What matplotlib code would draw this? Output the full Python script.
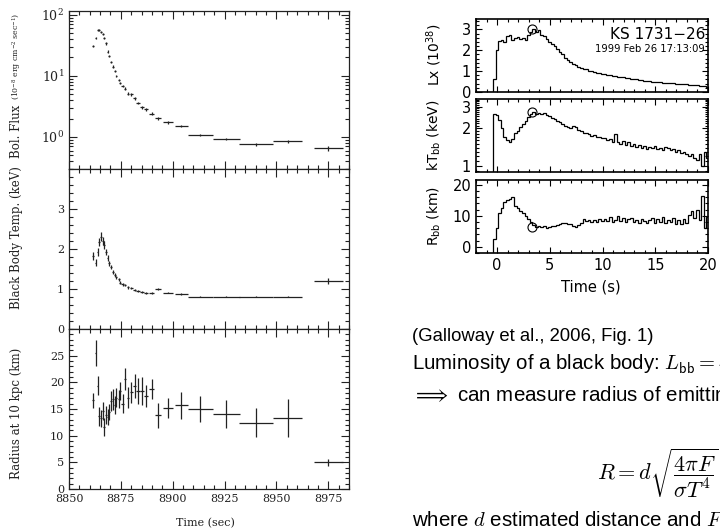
import numpy as np
import matplotlib
matplotlib.use("Agg")
import matplotlib.pyplot as plt
from matplotlib.ticker import MultipleLocator, LogLocator, NullFormatter

W, H = 720, 528
plt.rcParams["mathtext.fontset"] = "cm"

# ---------- left figure: burst in three panels (time in sec) ----------
t_left = [8861.7, 8862.8, 8863.8, 8864.6, 8865.4, 8866.3, 8866.8, 8867.8, 8868.6, 8869.4,
          8870.4, 8871.3, 8872.1, 8872.9, 8873.9, 8874.8, 8875.8, 8877.1, 8878.4, 8880.1,
          8881.6, 8883.2, 8885.2, 8887.3, 8890.0, 8892.9, 8897.7, 8904.2, 8913.3, 8925.8,
          8940.2, 8955.4, 8975.0]
t_left_err = [0.4, 0.4, 0.4, 0.4, 0.4, 0.4, 0.4, 0.4, 0.4, 0.4, 0.45, 0.45, 0.45, 0.45, 0.5,
              0.5, 0.5, 0.6, 0.6, 0.8, 0.8, 0.8, 1.0, 1.0, 1.2, 1.6, 2.4, 3.2, 6.0, 6.5,
              8.0, 7.0, 7.0]
flux = [31, 42, 56, 57, 52, 48, 42, 34, 25, 21, 17, 14.2, 12, 10, 8.6, 7.6, 6.8, 6.2, 5.1,
        5.0, 4.3, 3.6, 3.05, 2.85, 2.4, 2.03, 1.74, 1.51, 1.07, 0.92, 0.76, 0.86, 0.65]
flux_err = [1.5, 2, 2.5, 2.5, 2.5, 2, 2, 1.5, 1.2, 1, 0.8, 0.7, 0.6, 0.5, 0.4, 0.35, 0.3,
            0.3, 0.25, 0.25, 0.2, 0.18, 0.15, 0.14, 0.12, 0.1, 0.08, 0.07, 0.05, 0.04,
            0.04, 0.05, 0.05]
temp = [1.83, 1.66, 1.93, 2.18, 2.31, 2.21, 2.10, 1.93, 1.77, 1.64, 1.54, 1.43, 1.35, 1.29,
        1.24, 1.16, 1.12, 1.10, 1.04, 1.02, 0.98, 0.96, 0.93, 0.89, 0.91, 0.99, 0.91, 0.87,
        0.81, 0.81, 0.81, 0.81, 1.20]
temp_err = [0.1, 0.09, 0.1, 0.1, 0.12, 0.1, 0.09, 0.08, 0.07, 0.06, 0.05, 0.05, 0.045,
            0.04, 0.04, 0.035, 0.035, 0.03, 0.03, 0.03, 0.03, 0.025, 0.025, 0.025, 0.025,
            0.025, 0.02, 0.02, 0.015, 0.015, 0.015, 0.015, 0.08]
radius = [16.6, 25.5, 19.4, 13.6, 13.3, 14.6, 11.7, 13.9, 13.5, 14.4, 16.5, 16.8, 15.8,
          17.1, 16.8, 18.4, 16.0, 20.6, 17.1, 18.1, 19.3, 18.4, 18.4, 17.4, 18.8, 13.8,
          15.2, 15.7, 15.0, 14.0, 12.4, 13.3, 5.0]
radius_err = [1.4, 2.5, 1.7, 1.7, 1.6, 1.7, 1.7, 1.7, 1.5, 1.5, 1.8, 2.0, 1.7, 1.8, 1.7,
              1.7, 1.8, 2.1, 2.0, 2.0, 2.2, 2.4, 2.6, 2.1, 1.9, 2.3, 1.8, 2.5, 2.5, 2.6,
              2.7, 3.5, 0.6]
left_xticks = [8850, 8875, 8900, 8925, 8950, 8975]
flux_ticks = [1, 10, 100]
flux_ticklabels = [r"$10^0$", r"$10^1$", r"$10^2$"]

# ---------- right figure: KS 1731-26 (time in s, 0.25 s bins) ----------
bin_start, bin_width = -0.4, 0.25
lx = [0.6, 2.0, 2.45, 2.5, 2.4, 2.7, 2.75, 2.5, 2.6, 2.65, 2.55, 2.6, 2.5, 2.75, 2.9, 3.0,
      2.9, 2.95, 2.75, 2.7, 2.55, 2.4, 2.3, 2.2, 2.05, 1.9, 1.8, 1.65, 1.55, 1.45, 1.35,
      1.3, 1.22, 1.15, 1.12, 1.08, 1.02, 1.0, 0.96, 0.93, 0.9, 0.87, 0.85, 0.82, 0.8, 0.78,
      0.76, 0.74, 0.72, 0.7, 0.68, 0.66, 0.63, 0.62, 0.6, 0.58, 0.56, 0.54, 0.53, 0.51,
      0.5, 0.48, 0.47, 0.46, 0.45, 0.44, 0.43, 0.42, 0.41, 0.4, 0.39, 0.38, 0.37, 0.36,
      0.35, 0.34, 0.33, 0.32, 0.31, 0.3, 0.27, 0.22]
kt = [2.6, 2.55, 2.35, 2.0, 1.7, 1.6, 1.55, 1.65, 1.85, 1.9, 2.05, 2.15, 2.3, 2.45, 2.6,
      2.7, 2.62, 2.68, 2.6, 2.65, 2.58, 2.5, 2.42, 2.38, 2.3, 2.25, 2.15, 2.08, 2.05, 2.0,
      2.1, 2.05, 1.95, 1.9, 1.85, 1.82, 1.8, 1.75, 1.78, 1.72, 1.7, 1.66, 1.68, 1.6, 1.63,
      1.56, 1.8, 1.55, 1.5, 1.58, 1.48, 1.55, 1.45, 1.5, 1.42, 1.47, 1.4, 1.44, 1.36, 1.42,
      1.38, 1.45, 1.36, 1.4, 1.34, 1.42, 1.38, 1.33, 1.37, 1.3, 1.34, 1.27, 1.3, 1.24, 1.2,
      1.24, 1.16, 1.12, 1.25, 1.0, 1.3, 1.15]
rbb = [2.5, 6.0, 11.0, 12.5, 14.5, 15.0, 15.5, 16.0, 13.0, 12.5, 11.5, 10.8, 10.0, 9.0,
       8.0, 7.0, 6.5, 6.8, 6.3, 6.6, 6.2, 6.5, 6.8, 6.6, 7.0, 7.2, 7.5, 7.7, 7.4, 7.2, 6.8,
       6.5, 7.0, 7.5, 8.8, 8.3, 8.5, 7.9, 8.6, 8.0, 8.8, 8.2, 9.0, 8.4, 9.5, 8.0, 8.5, 9.8,
       8.2, 9.2, 7.9, 8.8, 9.4, 8.0, 8.7, 7.8, 8.9, 8.3, 7.6, 8.6, 9.3, 7.8, 8.9, 8.1, 9.6,
       7.5, 8.6, 8.0, 9.2, 7.4, 8.5, 7.2, 9.0, 7.8, 10.2, 11.5, 9.3, 12.0, 8.5, 16.5, 6.0,
       9.5]
# level before the burst starts (kT and R undefined -> below the axis)
pre_lx, pre_kt, pre_rbb = 0.0, 0.5, -5.0
circle_t = 3.3
circle_vals = [3.0, 2.69, 6.5]

fig = plt.figure(figsize=(W / 100, H / 100), dpi=100)

def px_axes(x0, y0, x1, y1):
    return fig.add_axes([x0 / W, 1 - y1 / H, (x1 - x0) / W, (y1 - y0) / H])

def fig_text(x, y, s, **kw):
    return fig.text(x / W, 1 - y / H, s, **kw)

LC = "#222222"
serif = "DejaVu Serif"
sans = "DejaVu Sans"
slide = "Liberation Sans"

# left panels
axL = [px_axes(69, 11, 349, 169), px_axes(69, 169, 349, 329), px_axes(69, 329, 349, 489)]
for ax, y, ye in zip(axL, [flux, temp, radius], [flux_err, temp_err, radius_err]):
    ax.errorbar(t_left, y, xerr=t_left_err, yerr=ye, fmt="none", ecolor=LC,
                elinewidth=0.9, capsize=0)
    ax.set_xlim(8850, 8985)
    ax.xaxis.set_major_locator(MultipleLocator(25))
    ax.xaxis.set_minor_locator(MultipleLocator(5))
    ax.tick_params(which="both", direction="in", top=True, right=True, colors=LC,
                   labelsize=8, width=0.8)
    ax.tick_params(which="major", length=6)
    ax.tick_params(which="minor", length=3)
    for s in ax.spines.values():
        s.set_color(LC)
        s.set_linewidth(0.9)
    if ax is not axL[2]:
        ax.tick_params(labelbottom=False)

ax = axL[0]
ax.set_yscale("log")
ax.set_ylim(0.3, 115)
ax.set_yticks(flux_ticks)
ax.set_yticklabels(flux_ticklabels, family=serif, math_fontfamily="dejavuserif",
                   fontsize=9)
ax.yaxis.set_minor_locator(LogLocator(base=10, subs=np.arange(2, 10)))
ax.yaxis.set_minor_formatter(NullFormatter())

ax = axL[1]
ax.set_ylim(0, 4)
ax.set_yticks([0, 1, 2, 3])
ax.yaxis.set_minor_locator(MultipleLocator(0.2))

ax = axL[2]
ax.set_ylim(0, 30)
ax.set_yticks([0, 5, 10, 15, 20, 25])
ax.yaxis.set_minor_locator(MultipleLocator(1))
ax.set_xticks(left_xticks)
for a in axL:
    for lab in a.get_xticklabels() + a.get_yticklabels():
        lab.set_family(serif)

fig_text(17, 158, "Bol. Flux", rotation=90, ha="center", va="bottom", family=serif,
         fontsize=8.5, color=LC)
fig_text(17, 100, r"$\mathregular{(10^{-8}\ erg\ cm^{-2}\ sec^{-1})}$", rotation=90,
         ha="center", va="bottom", family=serif, fontsize=5.6, color=LC,
         math_fontfamily="dejavuserif")
fig_text(17, 238, "Black Body Temp. (keV)", rotation=90, ha="center", va="center",
         family=serif, fontsize=8.5, color=LC)
fig_text(17, 413, "Radius at 10 kpc (km)", rotation=90, ha="center", va="center",
         family=serif, fontsize=8.5, color=LC)
fig_text(205, 523, "Time (sec)", ha="center", va="center", family=serif, fontsize=8,
         color=LC)

# right panels
n = len(lx)
edges = np.concatenate([[-2.0], bin_start + bin_width * np.arange(n + 1)])
axR = [px_axes(476, 19, 708, 92), px_axes(476, 99, 708, 172), px_axes(476, 180, 708, 253)]
series = [[pre_lx] + lx, [pre_kt] + kt, [pre_rbb] + rbb]
for ax, vals, cv in zip(axR, series, circle_vals):
    ax.stairs(vals, edges, baseline=None, color="black", lw=0.9)
    ax.plot([circle_t], [cv], "o", mfc="none", mec="black", ms=6.5, mew=0.8)
    ax.set_xlim(-2, 20)
    ax.xaxis.set_major_locator(MultipleLocator(5))
    ax.xaxis.set_minor_locator(MultipleLocator(1))
    ax.tick_params(which="both", direction="in", top=True, right=True, labelsize=10.5,
                   width=0.8)
    ax.tick_params(which="major", length=4)
    ax.tick_params(which="minor", length=2)
    for s in ax.spines.values():
        s.set_linewidth(1.2)
    if ax is not axR[2]:
        ax.tick_params(labelbottom=False)

axR[0].set_ylim(0, 3.5)
axR[0].set_yticks([0, 1, 2, 3])
axR[0].yaxis.set_minor_locator(MultipleLocator(0.2))
axR[1].set_yscale("log")
axR[1].set_ylim(0.89, 3.45)
axR[1].set_yticks([1, 2, 3])
axR[1].set_yticklabels(["1", "2", "3"])
axR[1].yaxis.set_minor_locator(MultipleLocator(0.1))
axR[1].yaxis.set_minor_formatter(NullFormatter())
axR[2].set_ylim(-2, 21.5)
axR[2].set_yticks([0, 10, 20])
axR[2].yaxis.set_minor_locator(MultipleLocator(2))
for ax in axR:
    for lab in ax.get_xticklabels() + ax.get_yticklabels():
        lab.set_family(sans)

for y, s in [(55, r"Lx (10$^{38}$)"), (135, r"kT$_{\rm bb}$ (keV)"),
             (216, r"R$_{\rm bb}$ (km)")]:
    fig_text(434, y, s, rotation=90, ha="center", va="center", family=sans, fontsize=10,
             math_fontfamily="dejavusans")
fig_text(591, 287, "Time (s)", ha="center", va="center", family=sans, fontsize=10.5)
fig_text(705, 39, "KS 1731\u221226", ha="right", va="baseline", family=sans, fontsize=11)
fig_text(705, 52, "1999 Feb 26 17:13:09", ha="right", va="baseline", family=sans,
         fontsize=7.2)

# slide text (cropped at the right and bottom edges like the slide)
fig_text(412, 341, "(Galloway et al., 2006, Fig. 1)", family=slide, fontsize=13.3,
         va="baseline")
fs = 14.8
fig_text(412, 371, r"Luminosity of a black body: $L_{\mathsf{bb}} = \mathsf{4}\pi R^{\mathsf{2}}\sigma T^{\mathsf{4}}$",
         family=slide, fontsize=fs, va="baseline")
fig_text(412, 401, r"$\Longrightarrow$ can measure radius of emitting region",
         family=slide, fontsize=fs, va="baseline")
fig_text(597, 473, r"$R = d\sqrt{\dfrac{\mathsf{4}\pi F}{\sigma T^{\mathsf{4}}}}$",
         family=slide, fontsize=16, va="center")
fig_text(412, 526, r"where $d$ estimated distance and $F$ the bolometric flux",
         family=slide, fontsize=fs, va="baseline")

fig.savefig("out.png", dpi=100)
